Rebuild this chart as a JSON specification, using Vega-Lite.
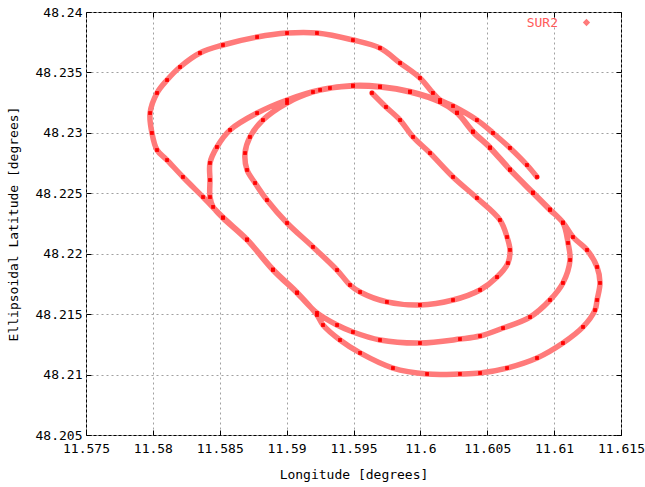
{
  "$schema": "https://vega.github.io/schema/vega-lite/v6.json",
  "autosize": "none",
  "width": 535,
  "height": 423,
  "padding": {"left": 86, "top": 12, "right": 24, "bottom": 52},
  "background": "white",
  "config": {
    "view": {"stroke": "#000000", "strokeWidth": 1},
    "font": "DejaVu Sans Mono",
    "axis": {
      "labelFont": "DejaVu Sans Mono",
      "labelFontSize": 13,
      "labelColor": "#000000",
      "titleFont": "DejaVu Sans Mono",
      "titleFontSize": 13,
      "titleFontWeight": "normal",
      "titleColor": "#000000",
      "domain": false,
      "tickColor": "#000000",
      "tickSize": -5,
      "gridColor": "#a0a0a0",
      "gridDash": [2, 3],
      "gridOpacity": 1,
      "gridWidth": 1
    }
  },
  "data": {
    "values": [
      {"t": 1, "lon": 11.59638, "lat": 48.23330, "series": "SUR2"},
      {"t": 2, "lon": 11.59743, "lat": 48.23214, "series": "SUR2"},
      {"t": 3, "lon": 11.59848, "lat": 48.23106, "series": "SUR2"},
      {"t": 4, "lon": 11.59945, "lat": 48.22966, "series": "SUR2"},
      {"t": 5, "lon": 11.60072, "lat": 48.22833, "series": "SUR2"},
      {"t": 6, "lon": 11.60244, "lat": 48.22635, "series": "SUR2"},
      {"t": 7, "lon": 11.60423, "lat": 48.22461, "series": "SUR2"},
      {"t": 8, "lon": 11.60595, "lat": 48.22279, "series": "SUR2"},
      {"t": 9, "lon": 11.60648, "lat": 48.22138, "series": "SUR2"},
      {"t": 10, "lon": 11.60670, "lat": 48.22031, "series": "SUR2"},
      {"t": 11, "lon": 11.60655, "lat": 48.21923, "series": "SUR2"},
      {"t": 12, "lon": 11.60573, "lat": 48.21807, "series": "SUR2"},
      {"t": 13, "lon": 11.60446, "lat": 48.21700, "series": "SUR2"},
      {"t": 14, "lon": 11.60244, "lat": 48.21617, "series": "SUR2"},
      {"t": 15, "lon": 11.59997, "lat": 48.21576, "series": "SUR2"},
      {"t": 16, "lon": 11.59750, "lat": 48.21601, "series": "SUR2"},
      {"t": 17, "lon": 11.59549, "lat": 48.21683, "series": "SUR2"},
      {"t": 18, "lon": 11.59474, "lat": 48.21741, "series": "SUR2"},
      {"t": 19, "lon": 11.59377, "lat": 48.21865, "series": "SUR2"},
      {"t": 20, "lon": 11.59197, "lat": 48.22056, "series": "SUR2"},
      {"t": 21, "lon": 11.59003, "lat": 48.22254, "series": "SUR2"},
      {"t": 22, "lon": 11.58853, "lat": 48.22444, "series": "SUR2"},
      {"t": 23, "lon": 11.58764, "lat": 48.22585, "series": "SUR2"},
      {"t": 24, "lon": 11.58704, "lat": 48.22693, "series": "SUR2"},
      {"t": 25, "lon": 11.58689, "lat": 48.22833, "series": "SUR2"},
      {"t": 26, "lon": 11.58726, "lat": 48.22966, "series": "SUR2"},
      {"t": 27, "lon": 11.58823, "lat": 48.23106, "series": "SUR2"},
      {"t": 28, "lon": 11.59003, "lat": 48.23247, "series": "SUR2"},
      {"t": 29, "lon": 11.59197, "lat": 48.23338, "series": "SUR2"},
      {"t": 30, "lon": 11.59324, "lat": 48.23371, "series": "SUR2"},
      {"t": 31, "lon": 11.59496, "lat": 48.23388, "series": "SUR2"},
      {"t": 32, "lon": 11.59698, "lat": 48.23379, "series": "SUR2"},
      {"t": 33, "lon": 11.59922, "lat": 48.23338, "series": "SUR2"},
      {"t": 34, "lon": 11.60147, "lat": 48.23255, "series": "SUR2"},
      {"t": 35, "lon": 11.60274, "lat": 48.23164, "series": "SUR2"},
      {"t": 36, "lon": 11.60393, "lat": 48.23007, "series": "SUR2"},
      {"t": 37, "lon": 11.60521, "lat": 48.22875, "series": "SUR2"},
      {"t": 38, "lon": 11.60670, "lat": 48.22693, "series": "SUR2"},
      {"t": 39, "lon": 11.60842, "lat": 48.22502, "series": "SUR2"},
      {"t": 40, "lon": 11.60969, "lat": 48.22362, "series": "SUR2"},
      {"t": 41, "lon": 11.61066, "lat": 48.22254, "series": "SUR2"},
      {"t": 42, "lon": 11.61104, "lat": 48.22089, "series": "SUR2"},
      {"t": 43, "lon": 11.61119, "lat": 48.21948, "series": "SUR2"},
      {"t": 44, "lon": 11.61066, "lat": 48.21758, "series": "SUR2"},
      {"t": 45, "lon": 11.60969, "lat": 48.21617, "series": "SUR2"},
      {"t": 46, "lon": 11.60820, "lat": 48.21476, "series": "SUR2"},
      {"t": 47, "lon": 11.60618, "lat": 48.21385, "series": "SUR2"},
      {"t": 48, "lon": 11.60446, "lat": 48.21319, "series": "SUR2"},
      {"t": 49, "lon": 11.60296, "lat": 48.21294, "series": "SUR2"},
      {"t": 50, "lon": 11.59997, "lat": 48.21261, "series": "SUR2"},
      {"t": 51, "lon": 11.59698, "lat": 48.21286, "series": "SUR2"},
      {"t": 52, "lon": 11.59496, "lat": 48.21352, "series": "SUR2"},
      {"t": 53, "lon": 11.59377, "lat": 48.21410, "series": "SUR2"},
      {"t": 54, "lon": 11.59227, "lat": 48.21510, "series": "SUR2"},
      {"t": 55, "lon": 11.59078, "lat": 48.21675, "series": "SUR2"},
      {"t": 56, "lon": 11.58898, "lat": 48.21865, "series": "SUR2"},
      {"t": 57, "lon": 11.58704, "lat": 48.22114, "series": "SUR2"},
      {"t": 58, "lon": 11.58524, "lat": 48.22296, "series": "SUR2"},
      {"t": 59, "lon": 11.58450, "lat": 48.22387, "series": "SUR2"},
      {"t": 60, "lon": 11.58427, "lat": 48.22469, "series": "SUR2"},
      {"t": 61, "lon": 11.58427, "lat": 48.22610, "series": "SUR2"},
      {"t": 62, "lon": 11.58427, "lat": 48.22751, "series": "SUR2"},
      {"t": 63, "lon": 11.58479, "lat": 48.22883, "series": "SUR2"},
      {"t": 64, "lon": 11.58577, "lat": 48.23024, "series": "SUR2"},
      {"t": 65, "lon": 11.58779, "lat": 48.23164, "series": "SUR2"},
      {"t": 66, "lon": 11.59003, "lat": 48.23272, "series": "SUR2"},
      {"t": 67, "lon": 11.59250, "lat": 48.23355, "series": "SUR2"},
      {"t": 68, "lon": 11.59496, "lat": 48.23392, "series": "SUR2"},
      {"t": 69, "lon": 11.59698, "lat": 48.23384, "series": "SUR2"},
      {"t": 70, "lon": 11.59922, "lat": 48.23342, "series": "SUR2"},
      {"t": 71, "lon": 11.60147, "lat": 48.23260, "series": "SUR2"},
      {"t": 72, "lon": 11.60274, "lat": 48.23168, "series": "SUR2"},
      {"t": 73, "lon": 11.60393, "lat": 48.23012, "series": "SUR2"},
      {"t": 74, "lon": 11.60521, "lat": 48.22880, "series": "SUR2"},
      {"t": 75, "lon": 11.60670, "lat": 48.22698, "series": "SUR2"},
      {"t": 76, "lon": 11.60842, "lat": 48.22507, "series": "SUR2"},
      {"t": 77, "lon": 11.60969, "lat": 48.22367, "series": "SUR2"},
      {"t": 78, "lon": 11.61066, "lat": 48.22259, "series": "SUR2"},
      {"t": 79, "lon": 11.61141, "lat": 48.22138, "series": "SUR2"},
      {"t": 80, "lon": 11.61246, "lat": 48.22031, "series": "SUR2"},
      {"t": 81, "lon": 11.61321, "lat": 48.21890, "series": "SUR2"},
      {"t": 82, "lon": 11.61343, "lat": 48.21758, "series": "SUR2"},
      {"t": 83, "lon": 11.61321, "lat": 48.21617, "series": "SUR2"},
      {"t": 84, "lon": 11.61306, "lat": 48.21534, "series": "SUR2"},
      {"t": 85, "lon": 11.61216, "lat": 48.21394, "series": "SUR2"},
      {"t": 86, "lon": 11.61066, "lat": 48.21261, "series": "SUR2"},
      {"t": 87, "lon": 11.60872, "lat": 48.21137, "series": "SUR2"},
      {"t": 88, "lon": 11.60648, "lat": 48.21054, "series": "SUR2"},
      {"t": 89, "lon": 11.60446, "lat": 48.21013, "series": "SUR2"},
      {"t": 90, "lon": 11.60296, "lat": 48.21005, "series": "SUR2"},
      {"t": 91, "lon": 11.60050, "lat": 48.21005, "series": "SUR2"},
      {"t": 92, "lon": 11.59795, "lat": 48.21054, "series": "SUR2"},
      {"t": 93, "lon": 11.59549, "lat": 48.21179, "series": "SUR2"},
      {"t": 94, "lon": 11.59399, "lat": 48.21286, "series": "SUR2"},
      {"t": 95, "lon": 11.59272, "lat": 48.21410, "series": "SUR2"},
      {"t": 96, "lon": 11.59227, "lat": 48.21493, "series": "SUR2"},
      {"t": 97, "lon": 11.59078, "lat": 48.21680, "series": "SUR2"},
      {"t": 98, "lon": 11.58898, "lat": 48.21870, "series": "SUR2"},
      {"t": 99, "lon": 11.58704, "lat": 48.22119, "series": "SUR2"},
      {"t": 100, "lon": 11.58524, "lat": 48.22301, "series": "SUR2"},
      {"t": 101, "lon": 11.58375, "lat": 48.22469, "series": "SUR2"},
      {"t": 102, "lon": 11.58225, "lat": 48.22635, "series": "SUR2"},
      {"t": 103, "lon": 11.58106, "lat": 48.22775, "series": "SUR2"},
      {"t": 104, "lon": 11.58031, "lat": 48.22858, "series": "SUR2"},
      {"t": 105, "lon": 11.57993, "lat": 48.22999, "series": "SUR2"},
      {"t": 106, "lon": 11.57979, "lat": 48.23164, "series": "SUR2"},
      {"t": 107, "lon": 11.58031, "lat": 48.23330, "series": "SUR2"},
      {"t": 108, "lon": 11.58106, "lat": 48.23437, "series": "SUR2"},
      {"t": 109, "lon": 11.58203, "lat": 48.23545, "series": "SUR2"},
      {"t": 110, "lon": 11.58352, "lat": 48.23661, "series": "SUR2"},
      {"t": 111, "lon": 11.58524, "lat": 48.23727, "series": "SUR2"},
      {"t": 112, "lon": 11.58779, "lat": 48.23793, "series": "SUR2"},
      {"t": 113, "lon": 11.59003, "lat": 48.23826, "series": "SUR2"},
      {"t": 114, "lon": 11.59227, "lat": 48.23826, "series": "SUR2"},
      {"t": 115, "lon": 11.59496, "lat": 48.23768, "series": "SUR2"},
      {"t": 116, "lon": 11.59698, "lat": 48.23702, "series": "SUR2"},
      {"t": 117, "lon": 11.59848, "lat": 48.23578, "series": "SUR2"},
      {"t": 118, "lon": 11.59997, "lat": 48.23454, "series": "SUR2"},
      {"t": 119, "lon": 11.60094, "lat": 48.23330, "series": "SUR2"},
      {"t": 120, "lon": 11.60147, "lat": 48.23272, "series": "SUR2"},
      {"t": 121, "lon": 11.60244, "lat": 48.23222, "series": "SUR2"},
      {"t": 122, "lon": 11.60423, "lat": 48.23106, "series": "SUR2"},
      {"t": 123, "lon": 11.60543, "lat": 48.22999, "series": "SUR2"},
      {"t": 124, "lon": 11.60670, "lat": 48.22875, "series": "SUR2"},
      {"t": 125, "lon": 11.60797, "lat": 48.22734, "series": "SUR2"},
      {"t": 126, "lon": 11.60872, "lat": 48.22635, "series": "SUR2"}
    ]
  },
  "layer": [
    {
      "mark": {"type": "line", "strokeWidth": 5.5, "strokeCap": "round", "strokeJoin": "round", "interpolate": "catmull-rom"},
      "encoding": {
        "x": {"field": "lon", "type": "quantitative",
              "scale": {"domain": [11.575, 11.615], "nice": false, "zero": false},
              "axis": {"orient": "bottom", "title": "Longitude [degrees]", "values": [11.575, 11.58, 11.585, 11.59, 11.595, 11.6, 11.605, 11.61, 11.615], "format": "~g", "labelPadding": 12, "titlePadding": 13, "labelFlush": false}},
        "y": {"field": "lat", "type": "quantitative",
              "scale": {"domain": [48.205, 48.24], "nice": false, "zero": false},
              "axis": {"orient": "left", "title": "Ellipsoidal Latitude [degrees]", "values": [48.205, 48.21, 48.215, 48.22, 48.225, 48.23, 48.235, 48.24], "format": "~g", "labelPadding": 9, "titlePadding": 15, "labelFlush": false}},
        "order": {"field": "t", "type": "quantitative"},
        "color": {"field": "series", "type": "nominal", "scale": {"range": ["#ff7a7a"]},
                  "legend": {"title": null, "orient": "none", "legendX": 494, "legendY": 4, "padding": 0,
                             "symbolType": "diamond", "symbolSize": 14, "symbolStrokeWidth": 2.5,
                             "labelAlign": "right", "labelOffset": -35, "labelColor": "#ff5a5a",
                             "labelFont": "DejaVu Sans Mono", "labelFontSize": 13}}
      }
    },
    {
      "mark": {"type": "point", "shape": "square", "filled": true, "size": 14, "color": "#ff0000", "opacity": 1},
      "encoding": {
        "x": {"field": "lon", "type": "quantitative",
              "axis": {"orient": "top", "title": null, "labels": false, "grid": false, "values": [11.575, 11.58, 11.585, 11.59, 11.595, 11.6, 11.605, 11.61, 11.615]}},
        "y": {"field": "lat", "type": "quantitative",
              "axis": {"orient": "right", "title": null, "labels": false, "grid": false, "values": [48.205, 48.21, 48.215, 48.22, 48.225, 48.23, 48.235, 48.24]}}
      }
    }
  ],
  "resolve": {"axis": {"x": "independent", "y": "independent"}}
}
